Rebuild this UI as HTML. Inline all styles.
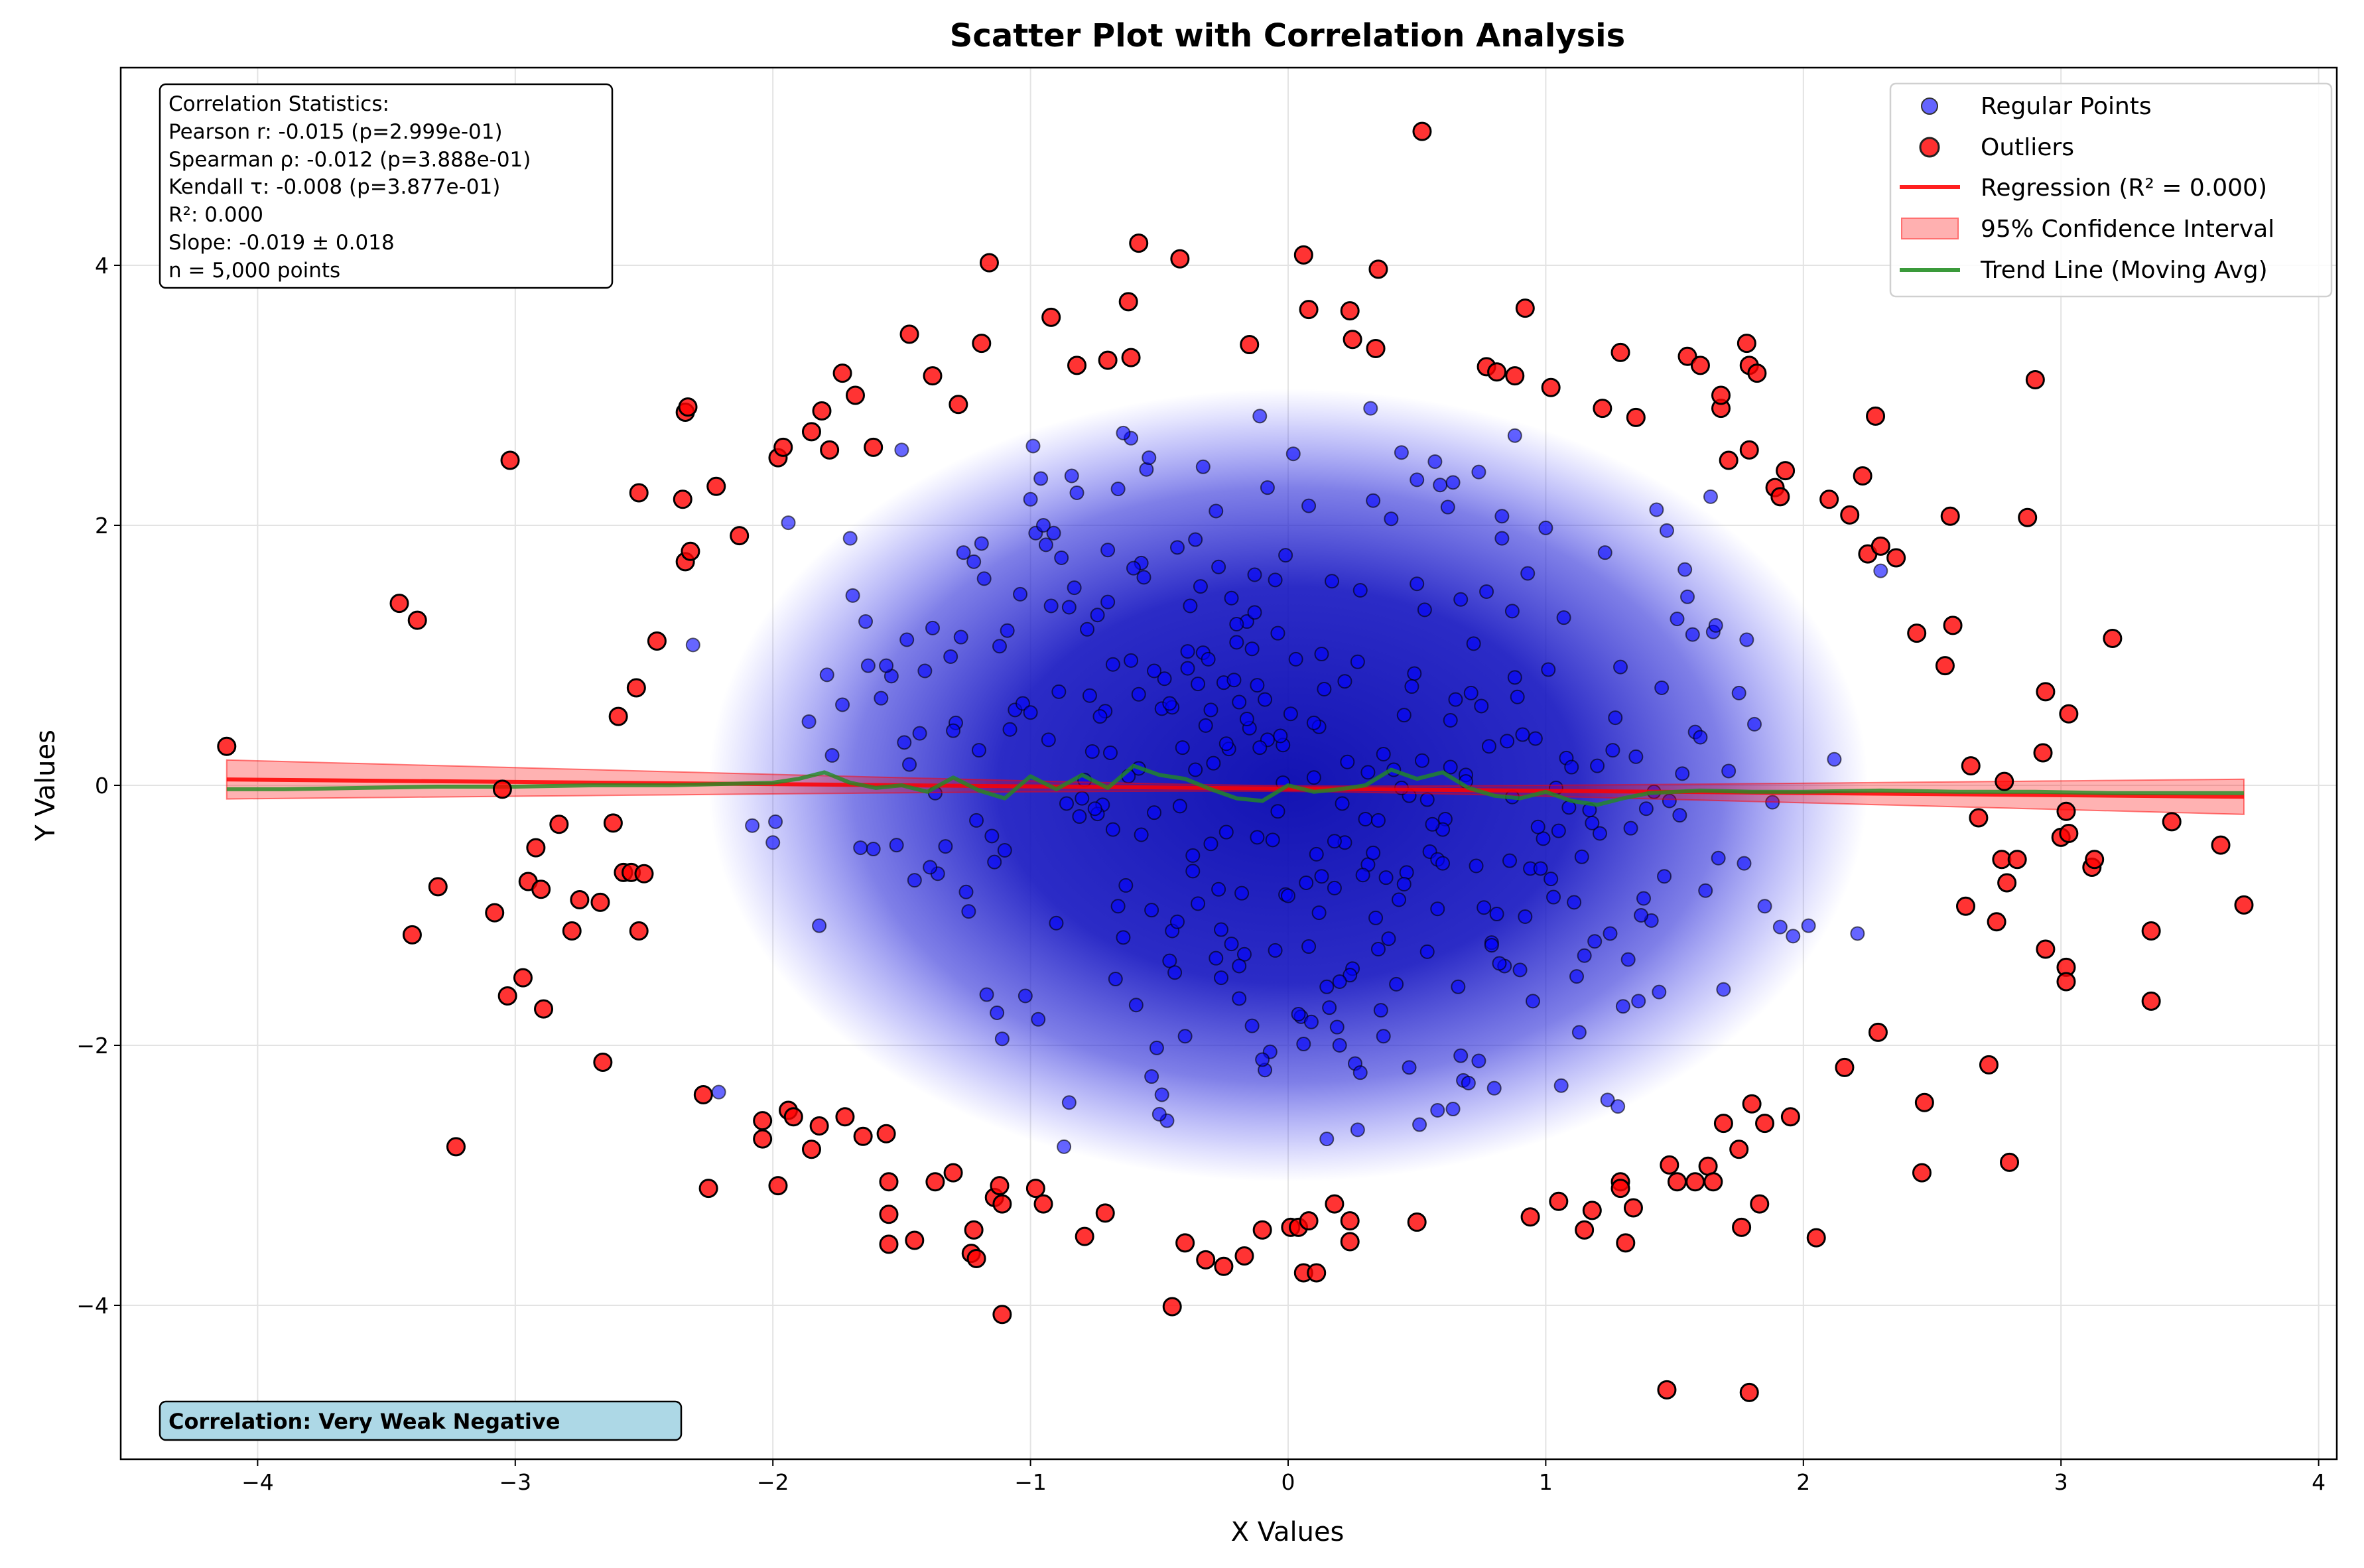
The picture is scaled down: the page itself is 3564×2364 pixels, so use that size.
<!DOCTYPE html>
<html><head><meta charset="utf-8"><style>
html,body{margin:0;padding:0;background:#fff;}
svg{display:block;font-family:"DejaVu Sans","Liberation Sans",sans-serif;}
</style></head><body>
<svg id="chart" width="3564" height="2364" viewBox="0 0 3564 2364" xmlns="http://www.w3.org/2000/svg">
<defs>
<radialGradient id="dens" cx="50%" cy="50%" r="50%">
<stop offset="0%" stop-color="#0c0cb0" stop-opacity="0.97"/>
<stop offset="50%" stop-color="#1414c0" stop-opacity="0.9"/>
<stop offset="75%" stop-color="#2a2ad8" stop-opacity="0.6"/>
<stop offset="90%" stop-color="#4040f0" stop-opacity="0.25"/>
<stop offset="100%" stop-color="#5050ff" stop-opacity="0"/>
</radialGradient>
<clipPath id="plotclip"><rect x="182" y="102" width="3341" height="2098"/></clipPath>
</defs>
<rect x="0" y="0" width="3564" height="2364" fill="#fff"/>
<g id="grid"></g>
<g id="plot" clip-path="url(#plotclip)"></g>
<rect x="182" y="102" width="3341" height="2098" fill="none" stroke="#000" stroke-width="2.5"/>
<g id="axes"></g>
<text x="1941" y="70" font-size="48" font-weight="bold" text-anchor="middle">Scatter Plot with Correlation Analysis</text>
<text x="1941" y="2323" font-size="40" text-anchor="middle">X Values</text>
<text transform="translate(82,1184) rotate(-90)" font-size="40" text-anchor="middle">Y Values</text>

<g>
<rect x="241" y="127" width="682" height="307" rx="9" fill="#fff" stroke="#000" stroke-width="2.5"/>
<g font-size="31">
<text x="254" y="167">Correlation Statistics:</text>
<text x="254" y="209">Pearson r: -0.015 (p=2.999e-01)</text>
<text x="254" y="251">Spearman ρ: -0.012 (p=3.888e-01)</text>
<text x="254" y="292">Kendall τ: -0.008 (p=3.877e-01)</text>
<text x="254" y="334">R²: 0.000</text>
<text x="254" y="376">Slope: -0.019 ± 0.018</text>
<text x="254" y="418">n = 5,000 points</text>
</g></g>

<g>
<rect x="241" y="2113" width="786" height="58" rx="9" fill="#add8e6" stroke="#000" stroke-width="2.5"/>
<text x="254" y="2154" font-size="32" font-weight="bold">Correlation: Very Weak Negative</text>
</g>

<g>
<rect x="2850" y="126" width="665" height="321" rx="8" fill="#fff" fill-opacity="0.85" stroke="#d0d0d0" stroke-width="2.5"/>
<g>
<circle cx="2909" cy="160" r="12" fill="#6464ff" stroke="#333" stroke-width="2"/>
<text x="2986" y="172" font-size="36">Regular Points</text></g>
<g>
<circle cx="2909" cy="222" r="14" fill="#ff3030" stroke="#222" stroke-width="3"/>
<text x="2986" y="234" font-size="36">Outliers</text></g>
<g>
<line x1="2864" y1="282" x2="2955" y2="282" stroke="#ff2020" stroke-width="6"/>
<text x="2986" y="295" font-size="36">Regression (R² = 0.000)</text></g>
<g>
<rect x="2867" y="329" width="85" height="31" fill="#ffb0b0" stroke="#ff7070" stroke-width="2"/>
<text x="2986" y="357" font-size="36">95% Confidence Interval</text></g>
<g>
<line x1="2864" y1="407" x2="2955" y2="407" stroke="#3a9a3a" stroke-width="6"/>
<text x="2986" y="419" font-size="36">Trend Line (Moving Avg)</text></g>
</g>
</svg>
<script>
const xTicks=[-4,-3,-2,-1,0,1,2,3,4];
const yTicks=[-4,-2,0,2,4];
const outX=[-4.12,-3.45,-3.38,-3.40,-3.30,-3.23,-3.08,-3.02,-3.05,-3.03,-2.97,-2.95,-2.92,-2.90,-2.89,-2.83,-2.78,-2.75,-2.67,-2.66,-2.62,-2.60,-2.58,-2.55,-2.53,-2.52,-2.52,-2.50,-2.45,-2.35,-2.34,-2.33,-2.34,-2.32,-2.27,-2.25,-2.22,-2.13,-2.04,-2.04,-1.98,-1.98,-1.96,-1.94,-1.92,-1.85,-1.85,-1.82,-1.81,-1.78,-1.73,-1.72,-1.68,-1.65,-1.61,-1.56,-1.55,-1.55,-1.55,-1.47,-1.45,-1.38,-1.37,-1.30,-1.28,-1.23,-1.22,-1.21,-1.19,-1.16,-1.14,-1.12,-1.11,-1.11,-0.98,-0.95,-0.92,-0.82,-0.79,-0.71,-0.70,-0.62,-0.61,-0.58,-0.45,-0.42,-0.40,-0.32,-0.25,-0.17,-0.15,-0.10,0.01,0.04,0.06,0.06,0.08,0.08,0.11,0.18,0.24,0.24,0.24,0.25,0.34,0.35,0.50,0.52,0.77,0.81,0.88,0.92,0.94,1.02,1.05,1.15,1.18,1.22,1.29,1.29,1.29,1.31,1.34,1.35,1.47,1.48,1.51,1.55,1.58,1.60,1.63,1.65,1.68,1.68,1.69,1.71,1.75,1.76,1.78,1.79,1.79,1.79,1.80,1.82,1.83,1.85,1.89,1.91,1.93,1.95,2.05,2.10,2.16,2.18,2.23,2.25,2.28,2.29,2.30,2.36,2.44,2.46,2.47,2.55,2.57,2.58,2.63,2.65,2.68,2.72,2.75,2.77,2.78,2.79,2.80,2.83,2.87,2.90,2.93,2.94,2.94,3.00,3.02,3.02,3.02,3.03,3.03,3.12,3.13,3.20,3.35,3.35,3.43,3.62,3.71];
const outY=[0.30,1.40,1.27,-1.15,-0.78,-2.78,-0.98,2.50,-0.03,-1.62,-1.48,-0.74,-0.48,-0.80,-1.72,-0.30,-1.12,-0.88,-0.90,-2.13,-0.29,0.53,-0.67,-0.67,0.75,2.25,-1.12,-0.68,1.11,2.20,2.87,2.91,1.72,1.80,-2.38,-3.10,2.30,1.92,-2.58,-2.72,2.52,-3.08,2.60,-2.50,-2.55,2.72,-2.80,-2.62,2.88,2.58,3.17,-2.55,3.00,-2.70,2.60,-2.68,-3.05,-3.30,-3.53,3.47,-3.50,3.15,-3.05,-2.98,2.93,-3.60,-3.42,-3.64,3.40,4.02,-3.17,-3.08,-3.22,-4.07,-3.10,-3.22,3.60,3.23,-3.47,-3.29,3.27,3.72,3.29,4.17,-4.01,4.05,-3.52,-3.65,-3.70,-3.62,3.39,-3.42,-3.40,-3.40,4.08,-3.75,3.66,-3.35,-3.75,-3.22,-3.35,-3.51,3.65,3.43,3.36,3.97,-3.36,5.03,3.22,3.18,3.15,3.67,-3.32,3.06,-3.20,-3.42,-3.27,2.90,3.33,-3.05,-3.10,-3.52,-3.25,2.83,-4.65,-2.92,-3.05,3.30,-3.05,3.23,-2.93,-3.05,2.90,3.00,-2.60,2.50,-2.80,-3.40,3.40,3.23,2.58,-4.67,-2.45,3.17,-3.22,-2.60,2.29,2.22,2.42,-2.55,-3.48,2.20,-2.17,2.08,2.38,1.78,2.84,-1.90,1.84,1.75,1.17,-2.98,-2.44,0.92,2.07,1.23,-0.93,0.15,-0.25,-2.15,-1.05,-0.57,0.03,-0.75,-2.90,-0.57,2.06,3.12,0.25,0.72,-1.26,-0.40,-0.20,-1.40,-1.51,0.55,-0.37,-0.63,-0.57,1.13,-1.12,-1.66,-0.28,-0.46,-0.92];
const regX=[0.12,-0.45,0.88,-1.21,1.54,-0.07,0.63,-0.92,0.31,-1.63,1.12,-0.28,0.47,-0.71,1.85,-1.38,0.05,0.96,-0.55,0.22,
-0.14,1.33,-1.02,0.71,-0.36,0.58,-1.77,1.06,-0.19,0.39,-0.83,1.48,-0.61,0.18,-1.29,0.84,-0.04,1.67,-0.47,0.27,
1.02,-0.22,0.52,-1.11,0.75,-0.66,1.21,-0.33,0.08,-1.49,0.43,-0.88,1.39,-0.12,0.66,-1.94,0.94,-0.41,0.15,-0.74,
-1.06,0.36,1.78,-0.52,0.02,-1.33,0.81,-0.27,1.15,-0.79,0.49,-0.09,1.58,-1.18,0.29,-0.58,2.02,-0.96,0.61,-0.31,
0.19,-1.58,0.99,-0.16,0.54,-0.85,1.27,-0.43,0.07,-2.08,0.72,-0.69,1.44,-0.25,0.33,-1.24,0.91,-0.05,1.71,-0.51,
-0.38,0.86,-1.41,0.25,-0.64,1.09,-0.18,0.45,-0.98,1.91,-0.29,0.68,-1.69,0.11,-0.77,1.36,-0.02,0.57,-1.15,0.79,
1.18,-0.57,0.34,-1.86,0.64,-0.21,1.51,-0.72,0.04,-1.03,0.83,-0.35,1.26,-0.46,0.17,-1.52,1.04,-0.11,2.21,-0.89,
-0.68,0.42,-0.03,1.62,-1.27,0.26,-0.49,0.93,-0.81,1.41,-0.15,0.59,-1.36,0.13,-0.59,1.08,-2.21,0.48,-0.24,0.77,
0.35,-0.93,1.64,-0.37,0.09,-1.12,0.69,-0.53,1.23,-0.06,0.51,-1.73,0.87,-0.26,0.23,-1.45,1.47,-0.67,0.01,-0.99,
-0.13,0.98,-0.76,0.37,-1.54,1.17,-0.44,0.62,-0.01,1.81,-1.09,0.28,-0.62,0.73,-0.34,1.29,-1.99,0.16,-0.84,0.55,
0.44,-1.19,0.82,-0.09,1.38,-0.54,0.21,-1.31,0.67,-0.23,1.96,-0.7,0.14,-1.61,1.13,-0.39,0.46,-0.95,1.52,-0.17,
-0.48,1.24,-0.2,0.6,-1.47,0.92,-0.08,0.38,-1.08,1.69,-0.6,0.1,-0.87,1.01,-0.3,0.53,-1.82,0.78,-0.42,1.43,
0.24,-0.73,1.11,-1.26,0.41,-0.1,0.89,-0.57,1.57,-0.19,0.03,-1.37,0.74,-0.63,1.32,-0.32,0.5,-1.14,2.12,-0.5,
-0.91,0.3,-0.35,1.19,-1.66,0.64,-0.14,0.85,-0.78,1.46,-0.02,0.2,-1.22,0.97,-0.45,0.7,-2.31,0.32,-0.66,1.6,
0.58,-1.04,0.06,1.35,-0.39,0.79,-1.5,0.18,-0.8,1.07,-0.27,0.63,-1.17,0.4,-0.04,1.75,-0.9,0.27,-0.56,1.2,
-0.2,1.05,-1.43,0.47,-0.7,0.12,1.53,-0.33,0.9,-1.0,0.35,-0.13,1.3,-1.79,0.6,-0.49,0.83,-0.24,1.88,-0.64,
0.0,-0.82,1.42,-0.26,0.67,-1.2,0.2,-0.46,1.14,-0.01,0.54,-1.56,0.88,-0.37,0.31,-0.97,1.65,-0.12,0.76,-1.3,
-0.58,0.15,1.0,-0.74,0.45,-1.64,1.28,-0.16,0.69,-0.43,0.08,-1.1,1.55,-0.28,0.37,-0.86,2.3,-0.53,0.22,-1.39,
0.95,-0.3,0.56,-1.0,1.37,-0.08,0.28,-1.25,0.8,-0.61,1.1,-0.19,0.44,-2.0,0.65,-0.4,1.66,-0.75,0.13,-0.94,
-0.11,0.74,-1.48,0.33,-0.52,1.25,-0.05,0.87,-1.13,0.5,-0.68,1.45,-0.22,0.1,-1.7,1.03,-0.36,0.58,-0.85,1.77];
const regY=[0.45,-1.12,0.83,-0.27,1.66,-2.05,0.14,1.38,-0.61,0.92,-1.47,2.11,-0.08,0.57,-0.93,1.21,-1.78,0.36,2.43,-0.44,
1.05,-0.33,-1.62,0.71,1.89,-0.95,0.23,-2.31,0.64,-1.18,1.52,-0.12,2.67,-0.79,0.48,-1.39,1.17,-0.56,-2.58,0.95,
-0.72,1.44,0.19,-1.95,0.61,2.28,-0.37,1.02,-1.24,0.33,-0.88,1.75,-0.18,0.77,-1.55,2.02,-0.64,0.29,-2.72,1.31,
0.58,-1.73,1.12,-0.21,2.55,-0.47,-0.99,1.68,-1.31,0.04,0.86,-2.19,0.41,1.59,-0.69,0.13,-1.08,2.36,-0.26,0.97,
-1.86,0.67,-0.41,1.26,-0.11,-2.44,0.52,1.83,-0.75,-0.31,1.09,0.25,-1.59,0.79,2.19,-0.97,0.39,-1.27,0.11,-2.02,
1.38,-0.58,0.88,-1.41,2.71,-0.17,-0.83,0.54,1.94,-1.09,0.17,-2.27,1.46,-0.53,0.69,-1.66,0.31,2.49,-0.39,-1.21,
-0.29,1.71,-1.02,0.49,-2.49,0.81,1.28,-0.15,-1.76,0.63,2.07,-0.91,0.27,-1.35,1.57,-0.46,-0.02,2.84,-1.14,0.72,
0.93,-1.53,0.38,-0.81,1.14,-2.14,0.59,1.63,-0.24,-1.04,0.44,2.31,-0.68,1.01,-1.69,0.21,-2.36,0.76,-0.36,1.49,
-1.26,0.35,2.22,-0.54,-1.82,1.07,0.08,-0.96,1.79,-0.42,-2.61,0.62,1.34,-1.11,0.18,-0.73,1.96,-1.49,0.55,2.61,
1.62,-0.64,0.26,-1.93,0.84,-0.19,-1.44,2.14,-0.84,0.47,1.19,-2.21,0.07,-0.62,1.53,0.91,-0.28,-1.71,2.38,-0.51,
-0.02,1.86,-1.37,0.66,-0.87,2.52,-0.14,0.99,-2.08,0.28,-1.16,1.41,0.74,-0.49,-1.9,1.03,-0.67,2.0,-0.23,-1.3,
0.82,-2.42,1.24,-0.34,0.16,-1.01,2.29,-0.71,0.43,-1.57,1.67,0.06,-2.78,0.89,-0.45,1.35,-1.08,0.3,-0.16,2.12,
-1.46,0.53,-0.9,1.79,0.12,-2.11,0.68,-0.38,1.16,-1.64,0.97,-0.06,2.41,-0.77,-1.34,0.46,1.55,-0.59,0.2,-2.53,
1.94,-0.26,0.78,-1.2,-0.48,2.33,-1.85,0.34,1.2,-0.7,0.02,-1.51,1.72,-0.32,0.6,-2.29,1.08,2.9,-0.93,0.37,
-0.57,1.47,-1.99,0.22,0.9,-1.23,2.58,-0.43,-0.1,1.29,-0.8,0.5,-1.61,2.05,-0.2,0.71,-1.06,-2.65,1.6,0.15,
1.1,-0.35,0.4,-2.17,1.81,-0.98,0.09,2.45,-1.42,0.56,-0.27,1.33,-1.7,0.85,-0.6,-2.38,1.9,0.32,-0.13,-1.17,
-0.85,2.25,-0.05,-1.48,1.43,0.27,-2.0,0.63,-0.55,1.77,-1.28,0.92,2.69,-0.66,0.1,-1.8,1.18,-0.4,-0.94,0.42,
0.7,-1.55,1.98,-0.22,-0.76,1.26,-2.47,0.51,0.03,-1.05,2.15,-0.5,1.45,-1.33,0.24,-0.14,1.65,-2.24,0.8,-0.63,
-1.66,0.58,-0.3,2.2,-1.0,0.35,1.5,-0.82,-2.33,0.96,0.14,-1.39,2.56,-0.44,0.66,-1.93,1.23,-0.18,-0.7,1.85,
0.29,-2.12,1.12,-0.52,0.88,-1.14,1.58,-0.09,-1.75,2.35,-0.34,0.75,-1.22,0.48,1.9,-0.86,0.12,-2.5,1.37,-0.6];
const regSlope=-0.017, regIntercept=-0.025, regXmin=-4.12, regXmax=3.71;
const ciBase=0.022, ciSlope=0.036;
const trendX=[-4.12,-3.9,-3.6,-3.3,-3.0,-2.7,-2.4,-2.2,-2.0,-1.9,-1.8,-1.7,-1.6,-1.5,-1.4,-1.3,-1.2,-1.1,-1.0,-0.9,-0.8,-0.7,-0.6,-0.5,-0.4,-0.3,-0.2,-0.1,0.0,0.1,0.2,0.3,0.4,0.5,0.6,0.7,0.8,0.9,1.0,1.1,1.2,1.3,1.4,1.6,1.8,2.0,2.3,2.6,2.9,3.2,3.5,3.71];
const trendY=[-0.03,-0.03,-0.02,-0.01,-0.01,0.00,0.00,0.01,0.02,0.05,0.10,0.02,-0.02,0.00,-0.05,0.06,-0.04,-0.10,0.07,-0.03,0.08,-0.02,0.15,0.08,0.05,-0.03,-0.10,-0.12,0.00,-0.05,-0.03,0.00,0.12,0.05,0.10,-0.02,-0.08,-0.10,-0.05,-0.12,-0.15,-0.10,-0.06,-0.04,-0.05,-0.05,-0.04,-0.05,-0.05,-0.06,-0.06,-0.06];

const NS='http://www.w3.org/2000/svg';
const L=182,R=3523,T=102,B=2200;
const sx=v=>1942+v*388.4;
const sy=v=>1184-v*196;
function mk(tag,attrs,parent){const e=document.createElementNS(NS,tag);for(const k in attrs)e.setAttribute(k,attrs[k]);parent.appendChild(e);return e;}
const grid=document.getElementById('grid'),plot=document.getElementById('plot'),axes=document.getElementById('axes');

xTicks.forEach(t=>{
 const gl=mk('line',{x1:sx(t),x2:sx(t),y1:T,y2:B,stroke:'#e3e3e3','stroke-width':2},grid);
 
 
 const tk=mk('line',{x1:sx(t),x2:sx(t),y1:B,y2:B+10,stroke:'#000','stroke-width':2},axes);
 
 
 const tx=mk('text',{x:sx(t),y:B+46,'font-size':33,'text-anchor':'middle'},axes);
 
 
 tx.textContent=(t<0?'\u2212'+(-t):String(t));
});
yTicks.forEach(t=>{
 const gl=mk('line',{x1:L,x2:R,y1:sy(t),y2:sy(t),stroke:'#e3e3e3','stroke-width':2},grid);
 
 
 const tk=mk('line',{x1:L-10,x2:L,y1:sy(t),y2:sy(t),stroke:'#000','stroke-width':2},axes);
 
 
 const tx=mk('text',{x:L-18,y:sy(t)+12,'font-size':33,'text-anchor':'end'},axes);
 
 
 tx.textContent=(t<0?'\u2212'+(-t):String(t));
});

const dens=mk('ellipse',{cx:sx(0),cy:sy(0),rx:388.4*2.25,ry:196*3.05,fill:'url(#dens)'},plot);



const reg=mk('g',{},plot);


for(let i=0;i<Math.min(regX.length,regY.length);i++){
 const c=mk('circle',{cx:sx(regX[i]),cy:sy(regY[i]),r:10,fill:'rgba(0,0,255,0.6)',stroke:'rgba(0,0,0,0.6)','stroke-width':2},reg);
 
 
}

const N=60;let up=[],lo=[];
for(let i=0;i<=N;i++){const x=regXmin+(regXmax-regXmin)*i/N;const y=regIntercept+regSlope*x;const hw=Math.sqrt(ciBase*ciBase+(ciSlope*x)*(ciSlope*x));up.push(sx(x)+','+sy(y+hw));lo.unshift(sx(x)+','+sy(y-hw));}
const ci=mk('polygon',{points:up.concat(lo).join(' '),fill:'rgba(255,0,0,0.3)',stroke:'rgba(255,0,0,0.5)','stroke-width':2},plot);


const rl=mk('line',{x1:sx(regXmin),y1:sy(regIntercept+regSlope*regXmin),x2:sx(regXmax),y2:sy(regIntercept+regSlope*regXmax),stroke:'rgba(255,0,0,0.85)','stroke-width':6},plot);


const tl=mk('polyline',{points:trendX.map((x,i)=>sx(x)+','+sy(trendY[i])).join(' '),fill:'none',stroke:'rgba(34,139,34,0.8)','stroke-width':6,'stroke-linejoin':'round'},plot);



const og=mk('g',{},plot);


for(let i=0;i<Math.min(outX.length,outY.length);i++){
 const c=mk('circle',{cx:sx(outX[i]),cy:sy(outY[i]),r:13,fill:'rgba(255,0,0,0.8)',stroke:'#000','stroke-width':3},og);
 
 
}
</script>
</body></html>
